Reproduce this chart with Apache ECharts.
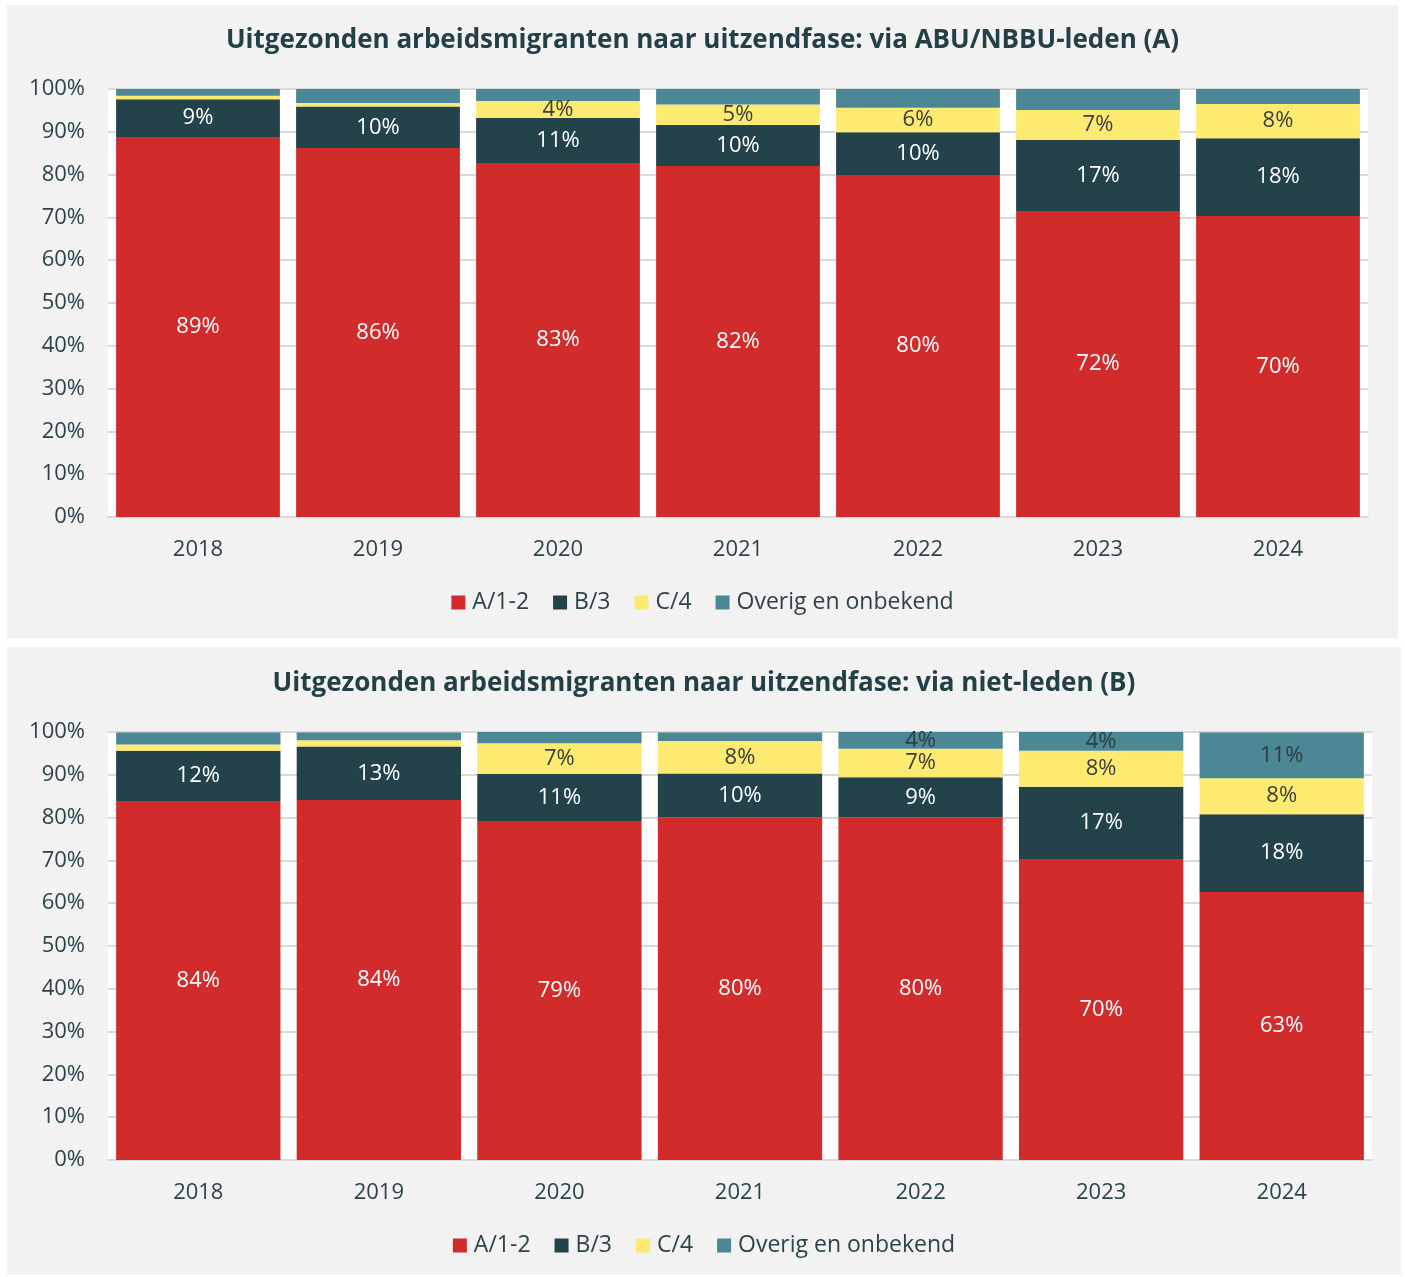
<!DOCTYPE html>
<html>
<head>
<meta charset="utf-8">
<script src="https://cdn.jsdelivr.net/npm/echarts@6/dist/echarts.min.js"></script>
<style>
    body { margin: 0; background: #fff; width: 1405px; height: 1277px; position: relative; }
    .panel { position: absolute; background: #f2f2f2; }
    #chartA { left: 7px; top: 5px; width: 1391px; height: 633px; }
    #chartB { left: 7px; top: 647px; width: 1394px; height: 628px; }
</style>
</head>
<body>
<div id="chartA" class="panel"></div>
<div id="chartB" class="panel"></div>
<script>
// Data (shares in %)
const years = ['2018', '2019', '2020', '2021', '2022', '2023', '2024'];
const seriesNames = ['A/1-2', 'B/3', 'C/4', 'Overig en onbekend'];

// A: via ABU/NBBU-leden
const leden_A = [88.8, 86.2, 82.7, 82.0, 79.9, 71.5, 70.3];
const leden_B = [8.8, 9.7, 10.5, 9.6, 10.0, 16.6, 18.2];
const leden_C = [0.8, 0.8, 4.0, 4.8, 5.7, 7.0, 8.0];
const leden_Overig = [1.6, 3.3, 2.8, 3.6, 4.4, 4.9, 3.5];

// B: via niet-leden
const nietLeden_A = [83.9, 84.1, 79.2, 80.1, 80.1, 70.3, 62.6];
const nietLeden_B = [11.7, 12.5, 11.0, 10.2, 9.3, 16.9, 18.2];
const nietLeden_C = [1.5, 1.5, 7.2, 7.6, 6.7, 8.4, 8.4];
const nietLeden_Overig = [2.8, 1.8, 2.6, 2.0, 3.9, 4.4, 10.7];

const yTicks = [0, 10, 20, 30, 40, 50, 60, 70, 80, 90, 100];

const colors = ['#d22b2b', '#244249', '#fdea71', '#4b8794'];
const labelColors = ['#ffffff', '#ffffff', '#3d3d3d', '#2a3f45'];
const textColor = '#2b4349';
const fontFamily = '"Open Sans", Lato, sans-serif';

function buildOption(title, data, showLabels, gridTop, gridWidth, legendTop, titleTop) {
    return {
        backgroundColor: '#f2f2f2',
        textStyle: { fontFamily: fontFamily },
        title: {
            text: title,
            left: 'center',
            top: titleTop,
            textStyle: { fontSize: 26, fontWeight: 'bold', color: '#234047', fontFamily: fontFamily }
        },
        legend: {
            top: legendTop,
            left: 'center',
            icon: 'rect',
            itemWidth: 14,
            itemHeight: 14,
            itemGap: 24,
            data: seriesNames,
            textStyle: { fontSize: 23, color: textColor, fontFamily: fontFamily, padding: [0, 0, 0, 2] }
        },
        grid: {
            left: 101,
            top: gridTop,
            width: gridWidth,
            height: 428,
            show: true,
            backgroundColor: '#ffffff',
            borderWidth: 0
        },
        xAxis: {
            type: 'category',
            data: years,
            axisLine: { lineStyle: { color: '#d9d9d9', width: 2 } },
            axisTick: { show: false },
            axisLabel: { fontSize: 22, color: textColor, margin: 22 }
        },
        yAxis: {
            type: 'value',
            min: 0,
            max: 100,
            interval: 10,
            axisLine: { show: false },
            axisTick: { show: false },
            axisLabel: {
                fontSize: 22,
                color: textColor,
                margin: 23,
                padding: [4, 0, 0, 0],
                formatter: v => yTicks.includes(v) ? v + '%' : ''
            },
            splitLine: { lineStyle: { color: '#d9d9d9', width: 2 } }
        },
        series: data.map((vals, i) => ({
            name: seriesNames[i],
            type: 'bar',
            stack: 'total',
            barCategoryGap: '9%',
            itemStyle: { color: colors[i] },
            label: {
                show: showLabels[i],
                position: 'inside',
                fontSize: 22,
                color: labelColors[i],
                fontFamily: fontFamily,
                padding: [4, 0, 0, 0],
                formatter: p => p.value >= 3.5 ? Math.round(p.value) + '%' : ''
            },
            data: vals
        }))
    };
}

const chartA = echarts.init(document.getElementById('chartA'));
chartA.setOption(buildOption(
    'Uitgezonden arbeidsmigranten naar uitzendfase: via ABU/NBBU-leden (A)',
    [leden_A, leden_B, leden_C, leden_Overig],
    [true, true, true, false],
    84, 1260, 581, 18
));

const chartB = echarts.init(document.getElementById('chartB'));
chartB.setOption(buildOption(
    'Uitgezonden arbeidsmigranten naar uitzendfase: via niet-leden (B)',
    [nietLeden_A, nietLeden_B, nietLeden_C, nietLeden_Overig],
    [true, true, true, true],
    85, 1264, 582, 19
));
</script>
</body>
</html>
